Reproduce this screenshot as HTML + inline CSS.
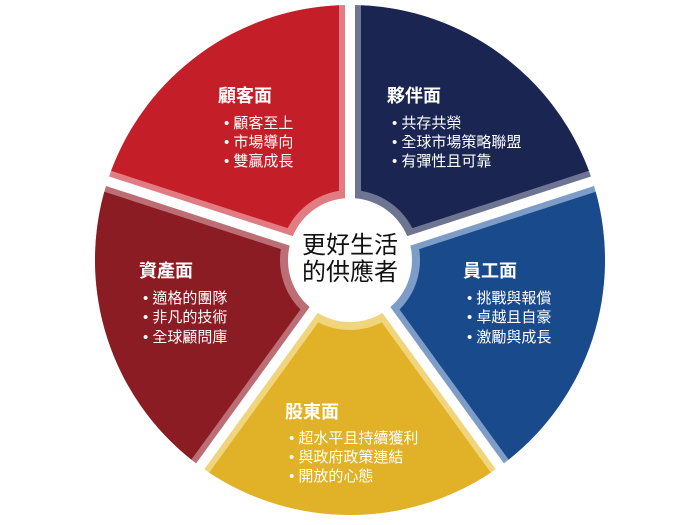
<!DOCTYPE html>
<html><head><meta charset="utf-8"><style>
html,body{margin:0;padding:0;background:#fff;}
svg{display:block;}
text{font-family:"Liberation Sans","Noto Sans CJK TC",sans-serif;}
.t{fill:#fff;font-size:18px;font-weight:bold;}
.i{fill:#fff;font-size:15px;}
.c{fill:#111;font-size:24px;font-weight:normal;}
</style></head><body>
<svg id="s" width="700" height="525" viewBox="0 0 700 525" xmlns="http://www.w3.org/2000/svg">
<g id="w"></g>
<circle cx="350" cy="260" r="60" fill="#fff"/>
<text class="c" x="350" y="253" text-anchor="middle">更好生活</text>
<text class="c" x="350" y="280" text-anchor="middle">的供應者</text>

<text class="t" x="218" y="102">顧客面</text>
<text class="i" x="224" y="128">• 顧客至上</text>
<text class="i" x="224" y="147">• 市場導向</text>
<text class="i" x="224" y="166">• 雙贏成長</text>

<text class="t" x="387" y="102">夥伴面</text>
<text class="i" x="392" y="128">• 共存共榮</text>
<text class="i" x="392" y="147">• 全球市場策略聯盟</text>
<text class="i" x="392" y="166">• 有彈性且可靠</text>

<text class="t" x="463" y="277">員工面</text>
<text class="i" x="467" y="303">• 挑戰與報償</text>
<text class="i" x="467" y="322">• 卓越且自豪</text>
<text class="i" x="467" y="342">• 激勵與成長</text>

<text class="t" x="139" y="277">資產面</text>
<text class="i" x="143" y="303">• 適格的團隊</text>
<text class="i" x="143" y="322">• 非凡的技術</text>
<text class="i" x="143" y="342">• 全球顧問庫</text>

<text class="t" x="285" y="418">股東面</text>
<text class="i" x="289" y="443">• 超水平且持續獲利</text>
<text class="i" x="289" y="462">• 與政府政策連結</text>
<text class="i" x="289" y="481">• 開放的心態</text>
</svg>
<script>
(function(){
var cx=350,cy=260,R=255;
var ws=[
 [198,270,"#c41f28","#e07c82"],
 [270,342,"#1a2651","#6d7592"],
 [342,414,"#194a8b","#7d9dc8"],
 [54,126,"#e1b127","#f0d57c"],
 [126,198,"#8b1c24","#bb6f75"]
];
function wedge(a0,a1,d,ri){
 var r0=a0*Math.PI/180,r1=a1*Math.PI/180;
 function edge(a,sign,r){
  var ux=Math.cos(a),uy=Math.sin(a);
  var nx=-uy*sign,ny=ux*sign;
  var t=Math.sqrt(Math.max(r*r-d*d,0));
  return [cx+ux*t+nx*d,cy+uy*t+ny*d];
 }
 var p0o=edge(r0,1,R),p1o=edge(r1,-1,R),p0i=edge(r0,1,ri),p1i=edge(r1,-1,ri);
 return "M"+p0i.join(",")+" L"+p0o.join(",")+" A"+R+","+R+" 0 0 1 "+p1o.join(",")+
  " L"+p1i.join(",")+" A"+ri+","+ri+" 0 0 0 "+p0i.join(",")+" Z";
}
var g=document.getElementById("w"),h="";
ws.forEach(function(w){
 h+='<path d="'+wedge(w[0],w[1],5,62)+'" fill="'+w[3]+'"/>';
 h+='<path d="'+wedge(w[0],w[1],11,70)+'" fill="'+w[2]+'"/>';
});
g.innerHTML=h;
})();
</script>
</body></html>
